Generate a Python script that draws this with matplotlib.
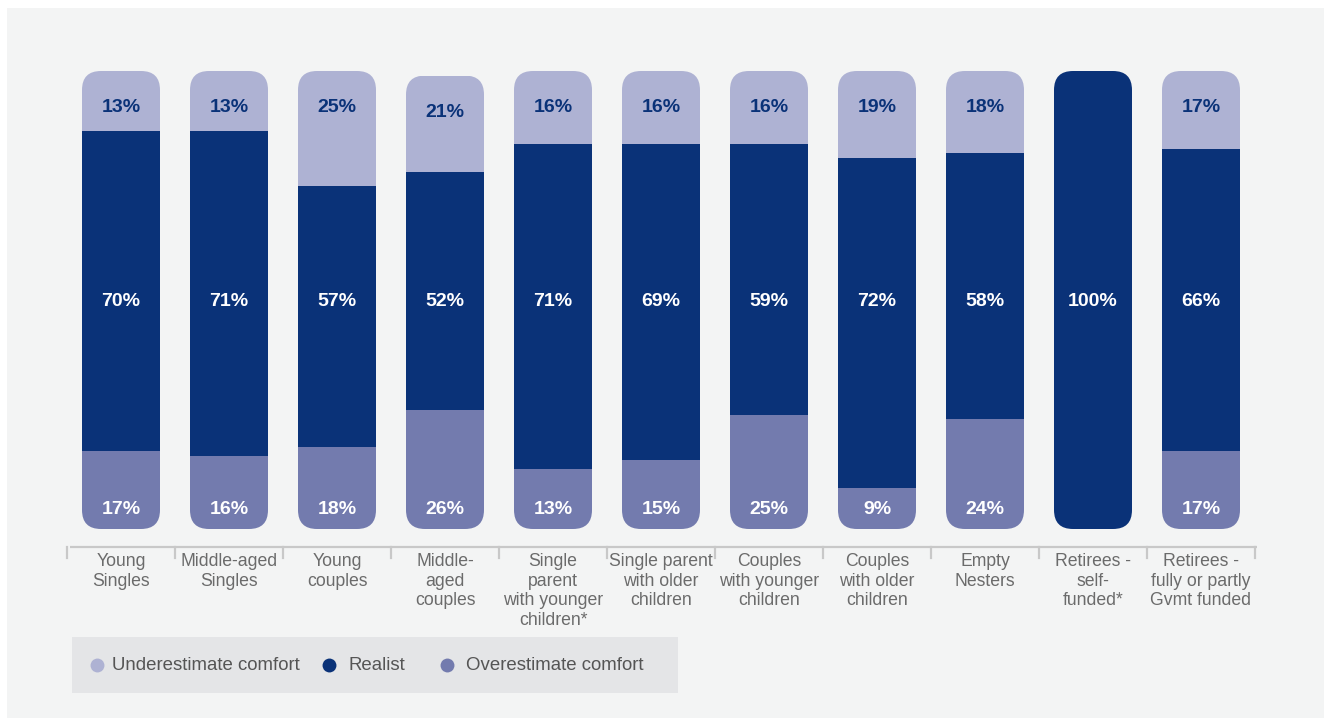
import numpy as np
import matplotlib
matplotlib.use("Agg")
import matplotlib.pyplot as plt
from matplotlib.patches import Rectangle, FancyBboxPatch
from matplotlib.lines import Line2D

plt.rcParams['font.family'] = ['Liberation Sans', 'DejaVu Sans']

# Household segments and their comfort estimates (%)
categories = ["Young\nSingles", "Middle-aged\nSingles", "Young\ncouples",
              "Middle-\naged\ncouples", "Single\nparent\nwith younger\nchildren*",
              "Single parent\nwith older\nchildren", "Couples\nwith younger\nchildren",
              "Couples\nwith older\nchildren", "Empty\nNesters",
              "Retirees -\nself-\nfunded*", "Retirees -\nfully or partly\nGvmt funded"]
underestimate = [13, 13, 25, 21, 16, 16, 16, 19, 18, 0, 17]
realist = [70, 71, 57, 52, 71, 69, 59, 72, 58, 100, 66]
overestimate = [17, 16, 18, 26, 13, 15, 25, 9, 24, 0, 17]
series_names = ["Underestimate comfort", "Realist", "Overestimate comfort"]

c_under = "#aeb2d3"
c_real = "#0a3278"
c_over = "#737bae"
panel_bg = "#f3f4f4"
legend_bg = "#e4e5e7"

W, H = 1324, 718
fig = plt.figure(figsize=(W / 100, H / 100), dpi=100)
fig.patch.set_facecolor("white")
fig.patches.append(Rectangle((7 / W, 0), 1, 1 - 8 / H, transform=fig.transFigure,
                             facecolor=panel_bg, edgecolor="none", zorder=-10))

ax_l, ax_r, ax_t, ax_b = 67, 1255, 71, 529
ax = fig.add_axes([ax_l / W, 1 - ax_b / H, (ax_r - ax_l) / W, (ax_b - ax_t) / H])
ax.set_xlim(-0.5, 10.5)
ax.set_ylim(0, 100)
ax.axis("off")

x = np.arange(len(categories))
under = np.array(underestimate)
real = np.array(realist)
over = np.array(overestimate)
total = under + real + over
width = 78 / 108

# rounded outline per bar, corrected for the axes aspect
x_per_px = 11 / (ax_r - ax_l)
y_per_px = 100 / (ax_b - ax_t)
aspect = y_per_px / x_per_px
radius = 19 * x_per_px

b_over = ax.bar(x, over, width, color=c_over, linewidth=0)
b_real = ax.bar(x, real, width, bottom=over, color=c_real, linewidth=0)
b_under = ax.bar(x, under, width, bottom=over + real, color=c_under, linewidth=0)

for i in range(len(x)):
    clip = FancyBboxPatch((x[i] - width / 2, 0), width, total[i],
                          boxstyle=f"round,pad=0,rounding_size={radius}",
                          mutation_aspect=aspect, facecolor="none", edgecolor="none")
    ax.add_patch(clip)
    for bars in (b_over, b_real, b_under):
        bars[i].set_clip_path(clip)

# value labels
lab_kw = dict(ha="center", va="center", fontsize=14, fontweight="bold")
for i in range(len(x)):
    if under[i]:
        ax.text(x[i], total[i] - 37 * y_per_px, f"{under[i]}%", color=c_real, **lab_kw)
    if real[i]:
        ax.text(x[i], 50 - 2 * y_per_px, f"{real[i]}%", color="white", **lab_kw)
    if over[i]:
        ax.text(x[i], 20 * y_per_px, f"{over[i]}%", color="white", **lab_kw)

# bracket under the bars
tr = ax.get_xaxis_transform()
y_line = -(547 - ax_b) / (ax_b - ax_t)
y_tick = -(558 - ax_b) / (ax_b - ax_t)
bracket = "#c8c8c8"
ax.add_line(Line2D([-0.47, 10.52], [y_line, y_line], transform=tr, color=bracket,
                   lw=1.6, clip_on=False, solid_capstyle="butt"))
for t in np.arange(len(x) + 1) - 0.5:
    ax.add_line(Line2D([t, t], [y_line, y_tick], transform=tr, color=bracket,
                       lw=1.6, clip_on=False))

y_lab = -(553 - ax_b) / (ax_b - ax_t)
for i, name in enumerate(categories):
    ax.text(x[i], y_lab, name, transform=tr, ha="center", va="top", fontsize=12.7,
            color="#6b6b6b", linespacing=1.2)

# legend panel
fig.patches.append(Rectangle((72 / W, 1 - 693 / H), (678 - 72) / W, (693 - 637) / H,
                             transform=fig.transFigure, facecolor=legend_bg,
                             edgecolor="none", zorder=-5))
leg_y = 1 - 665 / H
for cx, tx, col, name in zip([97, 329, 447], [112, 349, 466],
                             [c_under, c_real, c_over], series_names):
    fig.add_artist(Line2D([cx / W], [leg_y], marker="o", markersize=10, color=col,
                          markeredgewidth=0, transform=fig.transFigure))
    fig.text(tx / W, leg_y, name, ha="left", va="center", fontsize=13.4,
             color="#555555")

fig.savefig("out.png", dpi=100)
